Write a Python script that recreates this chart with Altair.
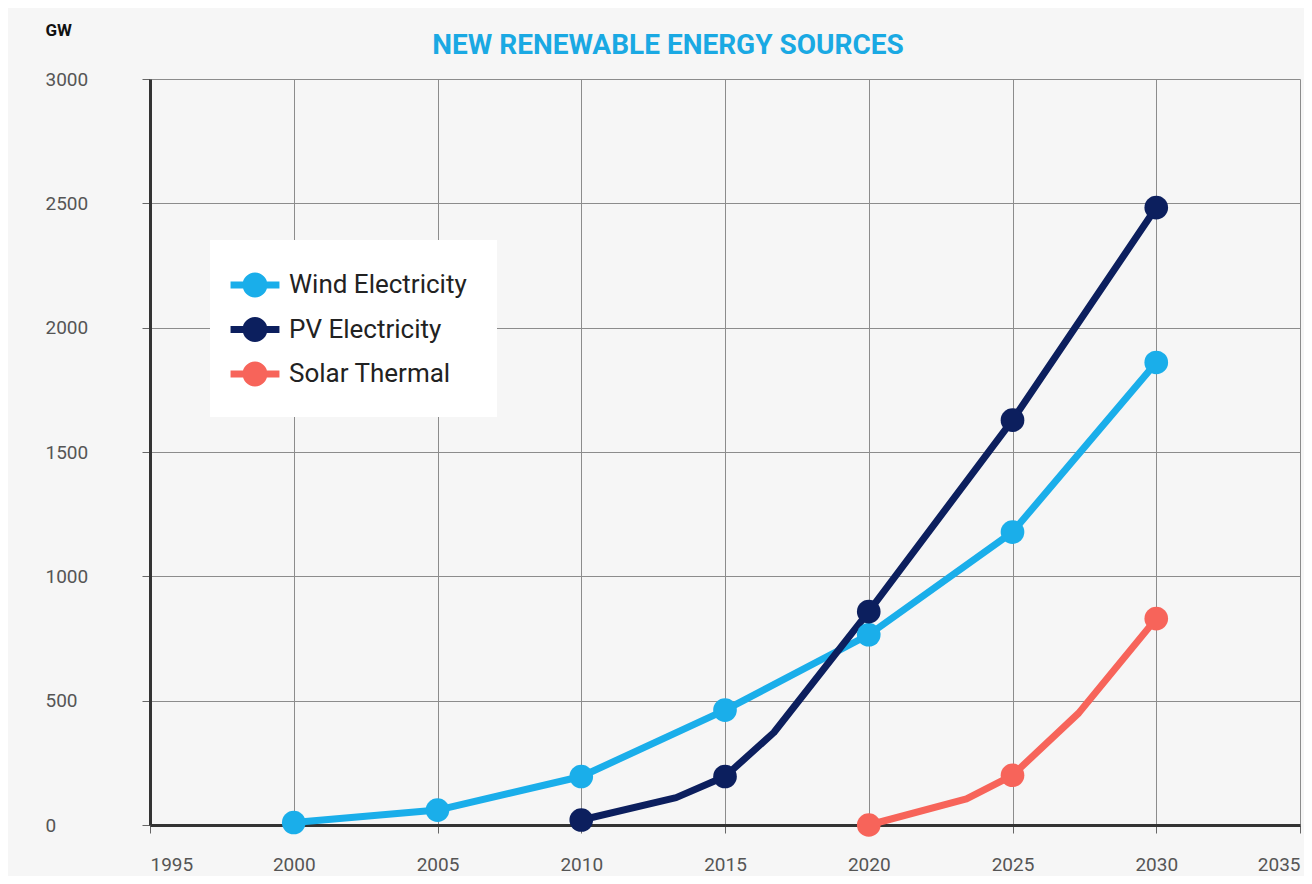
import altair as alt
import pandas as pd

# ---- data ----
series_names = ["Wind Electricity", "PV Electricity", "Solar Thermal"]
series_colors = ["#1aaeea", "#0c1f5e", "#f7645a"]

wind_years = [2000, 2005, 2010, 2015, 2020, 2025, 2030]
wind_gw = [10, 60, 195, 462, 765, 1178, 1860]

pv_years = [2010, 2015, 2020, 2025, 2030]
pv_gw = [20, 195, 858, 1628, 2483]
# unmarked bend points on the PV line
pv_bend_years = [2013.3, 2016.7]
pv_bend_gw = [110, 372]

solar_years = [2020, 2025, 2030]
solar_gw = [0, 200, 830]
# unmarked bend points on the Solar Thermal line
solar_bend_years = [2023.4, 2027.3]
solar_bend_gw = [105, 450]

x_ticks = [1995, 2000, 2005, 2010, 2015, 2020, 2025, 2030, 2035]
y_ticks = [0, 500, 1000, 1500, 2000, 2500, 3000]

rows = []
for y, v in zip(wind_years, wind_gw):
    rows.append({"series": series_names[0], "year": y, "gw": v, "marker": True})
for y, v in zip(pv_years, pv_gw):
    rows.append({"series": series_names[1], "year": y, "gw": v, "marker": True})
for y, v in zip(pv_bend_years, pv_bend_gw):
    rows.append({"series": series_names[1], "year": y, "gw": v, "marker": False})
for y, v in zip(solar_years, solar_gw):
    rows.append({"series": series_names[2], "year": y, "gw": v, "marker": True})
for y, v in zip(solar_bend_years, solar_bend_gw):
    rows.append({"series": series_names[2], "year": y, "gw": v, "marker": False})
df = pd.DataFrame(rows)

font = "Roboto"

color_scale = alt.Scale(domain=series_names, range=series_colors)

# legend glyph: short line segments either side of a dot
legend_symbol = (
    "M-1.63,-0.23L-0.78,-0.23L-0.78,0.23L-1.63,0.23Z"
    "M0.78,-0.23L1.63,-0.23L1.63,0.23L0.78,0.23Z"
    "M0.83,0A0.83,0.83,0,1,1,-0.83,0A0.83,0.83,0,1,1,0.83,0Z"
)

legend = alt.Legend(
    orient="none",
    legendX=60,
    legendY=161,
    title=None,
    fillColor="white",
    padding=30,
    labelFont=font,
    labelFontSize=26,
    labelColor="#222222",
    labelLimit=400,
    symbolType=legend_symbol,
    symbolSize=900,
    symbolStrokeWidth=0,
    symbolOpacity=1,
    rowPadding=16.5,
    labelOffset=19,
)

axis_common = dict(
    grid=True,
    gridColor="#8c8c8c",
    gridWidth=1,
    domainColor="#333333",
    domainWidth=3,
    tickColor="#666666",
    tickSize=8,
    labelFont=font,
    labelFontSize=19,
    labelColor="#555555",
)

x_enc = alt.X(
    "year:Q",
    scale=alt.Scale(domain=[1995, 2035], nice=False, zero=False),
    axis=alt.Axis(
        values=x_ticks,
        format="d",
        title=None,
        labelPadding=22,
        **axis_common,
    ),
)
y_enc = alt.Y(
    "gw:Q",
    scale=alt.Scale(domain=[0, 3000], nice=False),
    axis=alt.Axis(
        values=y_ticks,
        format="d",
        title="GW",
        titleAngle=0,
        titleAlign="left",
        titleBaseline="middle",
        titleX=-105,
        titleY=-49,
        titleFont=font,
        titleFontSize=17,
        titleFontWeight="bold",
        titleColor="#111111",
        labelAlign="left",
        labelPadding=97,
        **axis_common,
    ),
)

points = alt.Chart(df).transform_filter("datum.marker").mark_circle(size=560, opacity=1).encode(
    x=x_enc,
    y=y_enc,
    color=alt.Color("series:N", scale=color_scale, legend=legend),
)

lines = alt.Chart(df).mark_line(strokeWidth=7, strokeCap="round", strokeJoin="round").encode(
    x="year:Q",
    y="gw:Q",
    color=alt.Color("series:N", scale=color_scale, legend=legend),
    order=alt.Order("year:Q"),
    detail="series:N",
)

chart = (
    alt.layer(lines, points)
    .properties(
        width=1150,
        height=746,
        background="#f6f6f6",
        padding={"left": 142, "top": 71, "right": 4, "bottom": 51},
        autosize=alt.AutoSizeParams(type="none"),
        title=alt.TitleParams(
            text="NEW RENEWABLE ENERGY SOURCES",
            font=font,
            fontSize=28,
            fontWeight="bold",
            color="#1aa9e3",
            anchor="middle",
            frame="group",
            dx=-57,
            dy=39,
            offset=0,
        ),
    )
    .configure_view(stroke=None)
)

chart.save("out.html", embed_options={"renderer": "svg", "actions": False})
